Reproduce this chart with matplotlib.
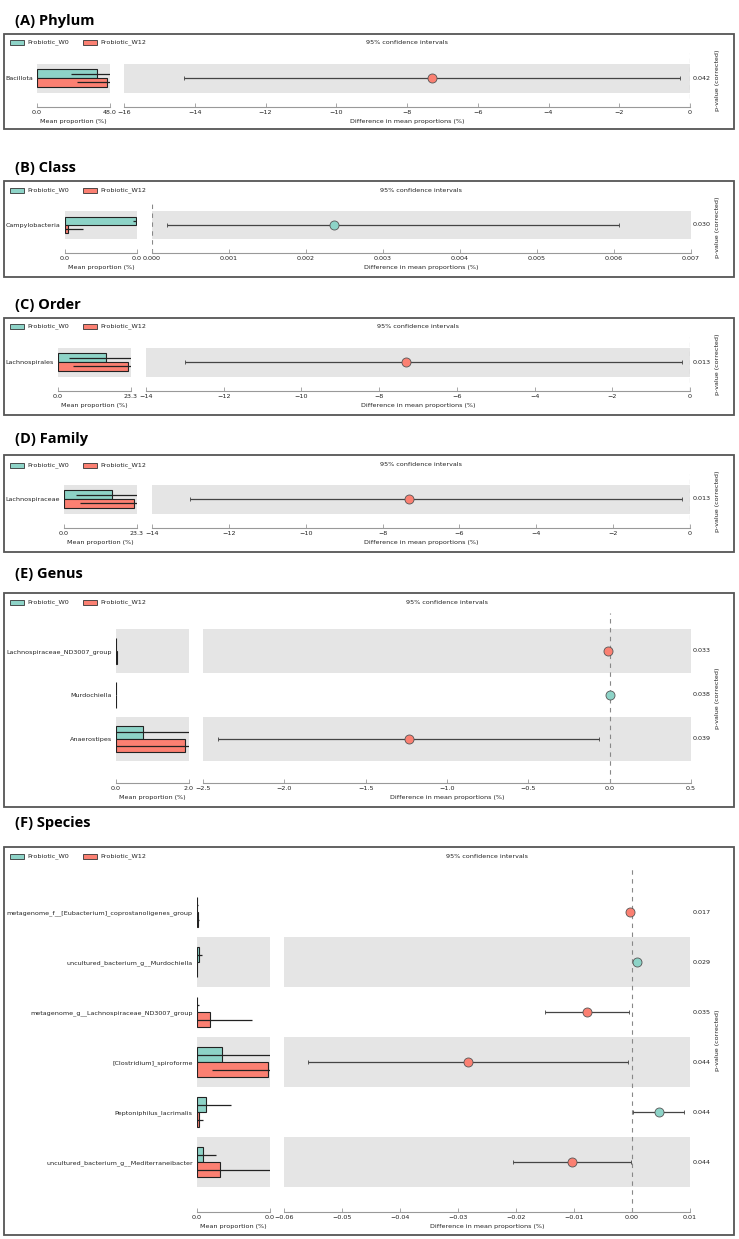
import matplotlib
matplotlib.use("Agg")
import matplotlib.pyplot as plt
from matplotlib.patches import Rectangle
from matplotlib.ticker import MultipleLocator, FixedLocator, FixedFormatter
import matplotlib.transforms as mtransforms

W, H = 739, 1239
C_W0 = "#8dd3c7"
C_W12 = "#fb8072"
GRAY_BG = "#e5e5e5"

groups = ["Probiotic_W0", "Probiotic_W12"]

# --- (A) Phylum ---
A_features = ["Bacillota"]
A_w0_mean = [39.5]
A_w0_std = [17.0]
A_w12_mean = [46.0]
A_w12_std = [19.7]
A_diff = [-7.3]
A_ci_low = [-14.3]
A_ci_high = [-0.27]
A_pval = ["0.042"]

# --- (B) Class ---
B_features = ["Campylobacteria"]
B_w0_mean = [0.00245]
B_w0_std = [0.0001]
B_w12_mean = [0.00012]
B_w12_std = [0.0005]
B_diff = [0.00236]
B_ci_low = [0.0002]
B_ci_high = [0.00607]
B_pval = ["0.030"]

# --- (C) Order ---
C_features = ["Lachnospirales"]
C_w0_mean = [15.3]
C_w0_std = [11.8]
C_w12_mean = [22.3]
C_w12_std = [17.5]
C_diff = [-7.3]
C_ci_low = [-13.0]
C_ci_high = [-0.2]
C_pval = ["0.013"]

# --- (D) Family ---
D_features = ["Lachnospiraceae"]
D_w0_mean = [15.3]
D_w0_std = [11.5]
D_w12_mean = [22.3]
D_w12_std = [17.2]
D_diff = [-7.3]
D_ci_low = [-13.0]
D_ci_high = [-0.2]
D_pval = ["0.013"]

# --- (E) Genus (top to bottom) ---
E_features = ["Lachnospiraceae_ND3007_group", "Murdochiella", "Anaerostipes"]
E_w0_mean = [0.002, 0.003, 0.74]
E_w0_std = [0.004, 0.006, 1.5]
E_w12_mean = [0.014, 0.0005, 1.92]
E_w12_std = [0.02, 0.001, 2.0]
E_diff = [-0.012, 0.0025, -1.234]
E_ci_low = [-0.022, 0.0005, -2.41]
E_ci_high = [-0.002, 0.0045, -0.066]
E_pval = ["0.033", "0.038", "0.039"]

# --- (F) Species (top to bottom) ---
F_features = ["metagenome_f__[Eubacterium]_coprostanoligenes_group",
              "uncultured_bacterium_g__Murdochiella",
              "metagenome_g__Lachnospiraceae_ND3007_group",
              "[Clostridium]_spiroforme",
              "Peptoniphilus_lacrimalis",
              "uncultured_bacterium_g__Mediterraneibacter"]
F_w0_mean = [0.0001, 0.001, 0.0003, 0.0154, 0.0055, 0.0037]
F_w0_std = [0.0003, 0.002, 0.001, 0.035, 0.0154, 0.008]
F_w12_mean = [0.0004, 0.0001, 0.008, 0.044, 0.001, 0.0142]
F_w12_std = [0.001, 0.0002, 0.026, 0.035, 0.0025, 0.035]
F_diff = [-0.0003, 0.0009, -0.0078, -0.0283, 0.0047, -0.0103]
F_ci_low = [-0.0006, 0.0002, -0.015, -0.0559, 0.0002, -0.0205]
F_ci_high = [-0.00005, 0.0016, -0.0005, -0.0007, 0.009, -0.0001]
F_pval = ["0.017", "0.029", "0.035", "0.044", "0.044", "0.044"]

panels = [
    dict(title="(A) Phylum", feats=A_features, m0=A_w0_mean, s0=A_w0_std, m1=A_w12_mean, s1=A_w12_std,
         diff=A_diff, lo=A_ci_low, hi=A_ci_high, p=A_pval, bar_max=48.0, bar_lbl="48.0",
         dlim=(-16, 0), dstep=2, title_y=25, box=(34, 129), leg_y=42, top=78, unit=29,
         barx=(37, 110), diffx=(124, 690)),
    dict(title="(B) Class", feats=B_features, m0=B_w0_mean, s0=B_w0_std, m1=B_w12_mean, s1=B_w12_std,
         diff=B_diff, lo=B_ci_low, hi=B_ci_high, p=B_pval, bar_max=0.0025, bar_lbl="0.0",
         dlim=(0, 0.007), dstep=0.001, title_y=172, box=(181, 277), leg_y=190, top=225, unit=28,
         barx=(65, 137), diffx=(152, 691)),
    dict(title="(C) Order", feats=C_features, m0=C_w0_mean, s0=C_w0_std, m1=C_w12_mean, s1=C_w12_std,
         diff=C_diff, lo=C_ci_low, hi=C_ci_high, p=C_pval, bar_max=23.3, bar_lbl="23.3",
         dlim=(-14, 0), dstep=2, title_y=309, box=(318, 415), leg_y=326, top=362, unit=29,
         barx=(58, 131), diffx=(146, 690)),
    dict(title="(D) Family", feats=D_features, m0=D_w0_mean, s0=D_w0_std, m1=D_w12_mean, s1=D_w12_std,
         diff=D_diff, lo=D_ci_low, hi=D_ci_high, p=D_pval, bar_max=23.3, bar_lbl="23.3",
         dlim=(-14, 0), dstep=2, title_y=443, box=(455, 552), leg_y=465, top=499, unit=29,
         barx=(64, 137), diffx=(152, 690)),
    dict(title="(E) Genus", feats=E_features, m0=E_w0_mean, s0=E_w0_std, m1=E_w12_mean, s1=E_w12_std,
         diff=E_diff, lo=E_ci_low, hi=E_ci_high, p=E_pval, bar_max=2.02, bar_lbl="2.0",
         dlim=(-2.5, 0.5), dstep=0.5, title_y=578, box=(593, 807), leg_y=602, top=651, unit=44,
         barx=(116, 189), diffx=(203, 691)),
    dict(title="(F) Species", feats=F_features, m0=F_w0_mean, s0=F_w0_std, m1=F_w12_mean, s1=F_w12_std,
         diff=F_diff, lo=F_ci_low, hi=F_ci_high, p=F_pval, bar_max=0.045, bar_lbl="0.0",
         dlim=(-0.06, 0.01), dstep=0.01, title_y=827, box=(847, 1235), leg_y=856, top=912, unit=50,
         barx=(197, 270), diffx=(284, 690)),
]

plt.rcParams["font.family"] = "DejaVu Sans"
fig = plt.figure(figsize=(W / 100, H / 100), dpi=100)
# pixel coords, origin top-left
T = mtransforms.Affine2D().scale(1 / W, -1 / H).translate(0, 1) + fig.transFigure

FS = 4.6
SPINE = "#999999"
TOPF = 0.87


def add_ax(x0, x1, ytop, ybot):
    return fig.add_axes([x0 / W, 1 - ybot / H, (x1 - x0) / W, (ybot - ytop) / H])


def style_ax(ax):
    for s in ["top", "right", "left"]:
        ax.spines[s].set_visible(False)
    ax.spines["bottom"].set_color(SPINE)
    ax.spines["bottom"].set_linewidth(0.8)
    ax.tick_params(axis="x", direction="in", length=3, width=0.6, color=SPINE,
                   labelsize=FS, pad=2, labelcolor="#222222")
    ax.tick_params(axis="y", length=0, labelsize=FS, pad=3, labelcolor="#222222")
    ax.set_facecolor("none")


for P in panels:
    n = len(P["feats"])
    ytop = P["top"] - TOPF * P["unit"]
    ybot = P["top"] + (n - 1) * P["unit"] + P["unit"]
    ylim = (-1, n - 1 + TOPF)
    ypos = [n - 1 - i for i in range(n)]

    # frame and title
    fig.add_artist(Rectangle((4, P["box"][0]), 730, P["box"][1] - P["box"][0], transform=T,
                             fill=False, edgecolor="#555555", lw=1.3))
    fig.text(15, P["title_y"], P["title"], transform=T, fontsize=10.5, fontweight="bold",
             family="Open Sans", va="baseline", ha="left", color="black")

    # legend
    for k, (g, c) in enumerate(zip(groups, [C_W0, C_W12])):
        lx = 10 + k * 73
        fig.add_artist(Rectangle((lx, P["leg_y"] - 2.5), 14, 5, transform=T, facecolor=c,
                                 edgecolor="#333333", lw=0.6))
        fig.text(lx + 17, P["leg_y"], g, transform=T, fontsize=FS, va="center", ha="left",
                 color="#222222")

    # mean proportion bars
    axb = add_ax(P["barx"][0], P["barx"][1], ytop, ybot)
    style_ax(axb)
    for y in ypos:
        if y % 2 == 0:
            axb.axhspan(y - 0.5, y + 0.5, color=GRAY_BG, lw=0, zorder=0)
    axb.barh([y + 0.15 for y in ypos], P["m0"], height=0.3, xerr=P["s0"], color=C_W0,
             edgecolor="#222222", lw=0.8, error_kw=dict(ecolor="#222222", elinewidth=0.9, capsize=0),
             zorder=2)
    axb.barh([y - 0.15 for y in ypos], P["m1"], height=0.3, xerr=P["s1"], color=C_W12,
             edgecolor="#222222", lw=0.8, error_kw=dict(ecolor="#222222", elinewidth=0.9, capsize=0),
             zorder=2)
    axb.set_xlim(0, P["bar_max"])
    axb.set_ylim(*ylim)
    axb.xaxis.set_major_locator(FixedLocator([0, P["bar_max"]]))
    axb.xaxis.set_major_formatter(FixedFormatter(["0.0", P["bar_lbl"]]))
    axb.set_yticks(ypos)
    axb.set_yticklabels(P["feats"])
    axb.set_xlabel("Mean proportion (%)", fontsize=FS, labelpad=3, color="#222222")

    # difference with CI
    axd = add_ax(P["diffx"][0], P["diffx"][1], ytop, ybot)
    style_ax(axd)
    for y in ypos:
        if y % 2 == 0:
            axd.axhspan(y - 0.5, y + 0.5, color=GRAY_BG, lw=0, zorder=0)
    axd.axvline(0, color="#888888", lw=0.8, ls=(0, (4, 4)), zorder=1)
    for y, d, lo, hi in zip(ypos, P["diff"], P["lo"], P["hi"]):
        c = C_W0 if d > 0 else C_W12
        axd.errorbar([d], [y], xerr=[[d - lo], [hi - d]], fmt="o", color=c, ms=6.5,
                     mec="#555555", mew=0.6, ecolor="#444444", elinewidth=0.9, capsize=1.6,
                     capthick=0.8, zorder=3)
    axd.set_xlim(*P["dlim"])
    axd.set_ylim(*ylim)
    axd.xaxis.set_major_locator(MultipleLocator(P["dstep"]))
    axd.set_yticks([])
    axd.set_xlabel("Difference in mean proportions (%)", fontsize=FS, labelpad=3, color="#222222")

    # header and p-values
    cx = (P["diffx"][0] + P["diffx"][1]) / 2
    fig.text(cx, P["leg_y"], "95% confidence intervals", transform=T, fontsize=FS,
             ha="center", va="center", color="#222222")
    for y, pv in zip(ypos, P["p"]):
        ypix = P["top"] + (n - 1 - y) * P["unit"]
        fig.text(693, ypix, pv, transform=T, fontsize=FS, ha="left", va="center", color="#222222")
    fig.text(718, (ytop + ybot) / 2, "p-value (corrected)", transform=T, fontsize=FS,
             rotation=90, ha="center", va="center", color="#222222")

fig.savefig("out.png", dpi=100)
